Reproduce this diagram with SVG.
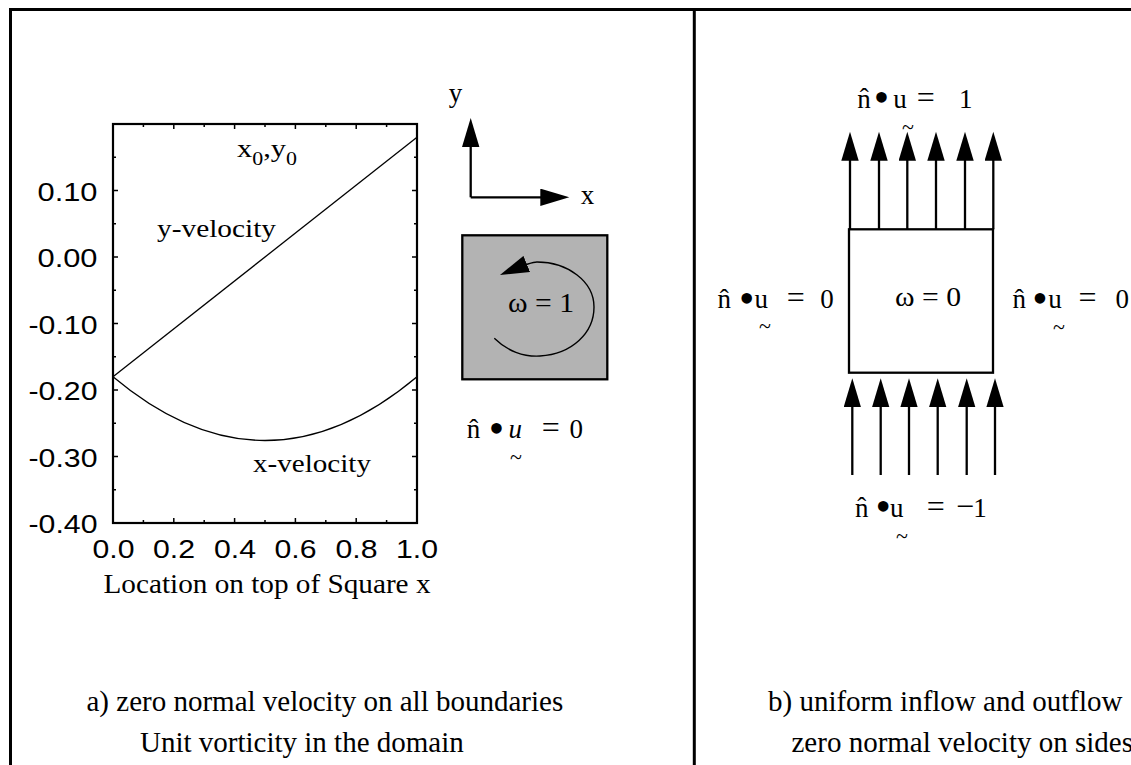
<svg xmlns="http://www.w3.org/2000/svg" width="1131" height="765" viewBox="0 0 1131 765">
<style>
.frame{fill:none;stroke:#000;stroke-width:3}
.plotbox{fill:none;stroke:#000;stroke-width:2.2}
.tick{fill:none;stroke:#000;stroke-width:1.5}
.curve{fill:none;stroke:#000;stroke-width:1.3}
.arrow{fill:none;stroke:#000;stroke-width:2.3;marker-end:url(#ah)}
.arc{fill:none;stroke:#000;stroke-width:1.4;marker-end:url(#ah)}
.box{fill:#fff;stroke:#000;stroke-width:2.3}
.gray{fill:#b3b3b3;stroke:#000;stroke-width:2.3}
.serif{font-family:"Liberation Serif","Times New Roman",serif;fill:#000}
.sans{font-family:"Liberation Sans",Arial,sans-serif;fill:#000;font-size:26px}
.lbl{font-size:25px}
.cap{font-size:29px}
.m{font-size:27px;text-anchor:middle}
.dot{font-size:44px}
.eq{font-size:32px}
.til{font-size:22px;text-anchor:middle}
.yl{text-anchor:end}
.xl{text-anchor:middle}
</style>
<defs>
<marker id="ah" markerUnits="userSpaceOnUse" markerWidth="30" markerHeight="18" refX="19" refY="8.7" orient="auto">
<path d="M0,0 L29,8.7 L0,17.4 z" fill="#000"/>
</marker>
</defs>

<g id="outer-frame">
<path class="frame" d="M10.5,765 V9.5 H1131 M694.3,9.5 V765"/>
</g>

<g id="plot">
<rect class="plotbox" x="113" y="124" width="304" height="399"/>
<path class="tick" d="M113 157.25h3 M113 190.5h5 M113 223.75h3 M113 257h5 M113 290.25h3 M113 323.5h5 M113 356.75h3 M113 390h5 M113 423.25h3 M113 456.5h5 M113 489.75h3
M417 157.25h-3 M417 190.5h-5 M417 223.75h-3 M417 257h-5 M417 290.25h-3 M417 323.5h-5 M417 356.75h-3 M417 390h-5 M417 423.25h-3 M417 456.5h-5 M417 489.75h-3
M143.4 124v3 M173.8 124v5 M204.2 124v3 M234.6 124v5 M265 124v3 M295.4 124v5 M325.8 124v3 M356.2 124v5 M386.6 124v3
M143.4 523v-3 M173.8 523v-5 M204.2 523v-3 M234.6 523v-5 M265 523v-3 M295.4 523v-5 M325.8 523v-3 M356.2 523v-5 M386.6 523v-3"/>
<path class="curve" d="M113,376.7 L417,137.3"/>
<path class="curve" d="M113,376.7 Q265,504.3 417,376.7"/>
<text class="sans yl" x="97.5" y="200.5" textLength="60" lengthAdjust="spacingAndGlyphs">0.10</text>
<text class="sans yl" x="97.5" y="267" textLength="60" lengthAdjust="spacingAndGlyphs">0.00</text>
<text class="sans yl" x="97.5" y="333.5" textLength="69" lengthAdjust="spacingAndGlyphs">-0.10</text>
<text class="sans yl" x="97.5" y="400" textLength="69" lengthAdjust="spacingAndGlyphs">-0.20</text>
<text class="sans yl" x="97.5" y="466.5" textLength="69" lengthAdjust="spacingAndGlyphs">-0.30</text>
<text class="sans yl" x="97.5" y="533" textLength="69" lengthAdjust="spacingAndGlyphs">-0.40</text>
<text class="sans xl" x="113.5" y="558" textLength="42" lengthAdjust="spacingAndGlyphs">0.0</text>
<text class="sans xl" x="174" y="558" textLength="42" lengthAdjust="spacingAndGlyphs">0.2</text>
<text class="sans xl" x="235" y="558" textLength="42" lengthAdjust="spacingAndGlyphs">0.4</text>
<text class="sans xl" x="295.5" y="558" textLength="42" lengthAdjust="spacingAndGlyphs">0.6</text>
<text class="sans xl" x="356.5" y="558" textLength="42" lengthAdjust="spacingAndGlyphs">0.8</text>
<text class="sans xl" x="417" y="558" textLength="42" lengthAdjust="spacingAndGlyphs">1.0</text>
<text class="serif lbl" x="237" y="157" textLength="60" lengthAdjust="spacingAndGlyphs">x<tspan font-size="18" dy="8">0</tspan><tspan dy="-8">,y</tspan><tspan font-size="18" dy="8">0</tspan></text>
<text class="serif lbl" x="157" y="237" textLength="119" lengthAdjust="spacingAndGlyphs">y-velocity</text>
<text class="serif lbl" x="253" y="472" textLength="118" lengthAdjust="spacingAndGlyphs">x-velocity</text>
<text class="serif" font-size="28" x="103.5" y="593" textLength="327" lengthAdjust="spacingAndGlyphs">Location on top of Square x</text>
</g>

<g id="axes-label">
<text class="serif m" x="455.5" y="102.3">y</text>
<text class="serif m" x="587.5" y="204">x</text>
</g>

<g id="domain-a">
<rect class="gray" x="462.3" y="235.3" width="145" height="144"/>
<text class="serif" font-size="27" x="508" y="312.3" textLength="66" lengthAdjust="spacingAndGlyphs">ω = 1</text>
</g>

<g id="bc-a">
<text class="serif m"><tspan x="473.5" y="438.3">n̂</tspan><tspan class="dot" x="496.5" y="443">•</tspan><tspan x="515.3" y="438.3" font-style="italic">u</tspan><tspan class="eq" x="550.8" y="438.3">=</tspan><tspan x="576.2" y="438.3">0</tspan></text>
<text class="serif til" x="516" y="463.5">~</text>
</g>

<g id="domain-b">
<rect class="box" x="849" y="229.3" width="144" height="143.4"/>
<text class="serif" font-size="27" x="895" y="306" textLength="66" lengthAdjust="spacingAndGlyphs">ω = 0</text>
</g>

<g id="bc-b-top">
<text class="serif m"><tspan x="864" y="107.7">n̂</tspan><tspan class="dot" x="881.5" y="112.4">•</tspan><tspan x="900" y="107.7">u</tspan><tspan class="eq" x="925.8" y="107.7">=</tspan><tspan x="965.8" y="107.7">1</tspan></text>
<text class="serif til" x="908" y="134.3">~</text>
</g>

<g id="bc-b-left">
<text class="serif m"><tspan x="724.2" y="308.3">n̂</tspan><tspan class="dot" x="746.7" y="313">•</tspan><tspan x="761.2" y="308.3">u</tspan><tspan class="eq" x="795.8" y="308.3">=</tspan><tspan x="827" y="308.3">0</tspan></text>
<text class="serif til" x="765" y="333">~</text>
</g>

<g id="bc-b-right">
<text class="serif m"><tspan x="1019.2" y="308.3">n̂</tspan><tspan class="dot" x="1040" y="313">•</tspan><tspan x="1055" y="308.3">u</tspan><tspan class="eq" x="1087.5" y="308.3">=</tspan><tspan x="1122.2" y="308.3">0</tspan></text>
<text class="serif til" x="1059" y="334">~</text>
</g>

<g id="bc-b-bottom">
<text class="serif m"><tspan x="861.7" y="516.7">n̂</tspan><tspan class="dot" x="883.3" y="521.4">•</tspan><tspan x="896.7" y="516.7">u</tspan><tspan class="eq" x="935.8" y="516.7">=</tspan><tspan class="eq" x="965" y="516.7">−</tspan><tspan x="980" y="516.7">1</tspan></text>
<text class="serif til" x="902" y="542.7">~</text>
</g>

<g id="captions">
<text class="serif cap" x="86.5" y="711">a) zero normal velocity on all boundaries</text>
<text class="serif cap" x="140" y="752">Unit vorticity in the domain</text>
<text class="serif cap" x="768" y="711">b) uniform inflow and outflow</text>
<text class="serif cap" x="791.5" y="752">zero normal velocity on sides</text>
</g>

<g id="connectors">
<path class="arrow" d="M470.7,197.3 V128"/>
<path class="arrow" d="M470.7,197.3 H559.3"/>
<path class="arc" d="M494.3,338.3 C507,351 524,357 540,356 C572,354 594,333 594,307 C594,281 567,262 537,262 C531,262 523,265.5 509.2,271.2"/>
<path class="arrow" d="M850,229.3 V141.7"/>
<path class="arrow" d="M879,229.3 V141.7"/>
<path class="arrow" d="M907.3,229.3 V141.7"/>
<path class="arrow" d="M936,229.3 V141.7"/>
<path class="arrow" d="M965,229.3 V141.7"/>
<path class="arrow" d="M993.3,229.3 V141.7"/>
<path class="arrow" d="M852.3,475 V388.3"/>
<path class="arrow" d="M880.7,475 V388.3"/>
<path class="arrow" d="M909,475 V388.3"/>
<path class="arrow" d="M937.7,475 V388.3"/>
<path class="arrow" d="M966.7,475 V388.3"/>
<path class="arrow" d="M995,475 V388.3"/>
</g>
</svg>
